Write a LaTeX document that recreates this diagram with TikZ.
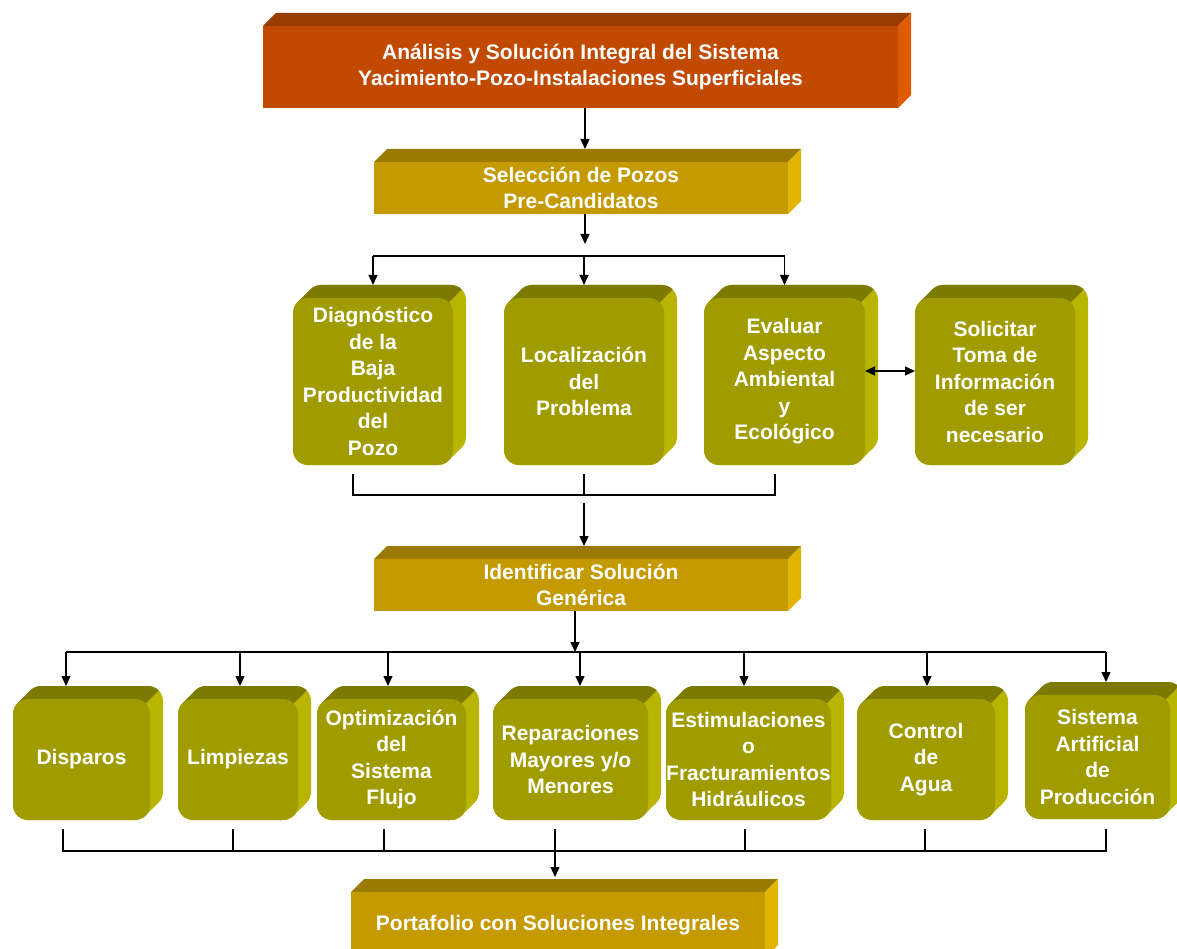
\documentclass[tikz,border=0pt]{standalone}
\usepackage{fontspec}
\setmainfont{Liberation Sans}
\usetikzlibrary{arrows.meta}

% palettes: front face, top face, side face
\definecolor{rustfront}{HTML}{C24A00}
\definecolor{rusttop}{HTML}{983C00}
\definecolor{rustside}{HTML}{E05A00}
\definecolor{goldfront}{HTML}{C49A00}
\definecolor{goldtop}{HTML}{9A7A00}
\definecolor{goldside}{HTML}{E0B400}
\definecolor{olfront}{HTML}{A09C00}
\definecolor{oltop}{HTML}{7C7A00}
\definecolor{olside}{HTML}{B8B400}

\newcommand\slabdep{13}
\newcommand\blkdep{13}
\newcommand\blkrad{15pt}
\newcommand\blktan{4.39}

% flat extruded bar: name, x1, y1, x2, y2 (front face), palette, text
\newcommand{\slab}[7]{%
  \fill[#6top] (#2,#3) -- (#2+\slabdep,#3-\slabdep) -- (#4+\slabdep,#3-\slabdep) -- (#4,#3) -- cycle;
  \fill[#6side] (#4,#3) -- (#4+\slabdep,#3-\slabdep) -- (#4+\slabdep,#5-\slabdep) -- (#4,#5) -- cycle;
  \node[txt, fill=#6front, minimum width={(#4-#2)*1pt}, minimum height={(#5-#3)*1pt}]
    (#1) at ({(#2+#4)/2},{(#3+#5)/2}) {#7};
}

% solid of a rounded block (front, back and the band joining them)
\newcommand{\blocksolid}[5]{%
  \fill[#5, rounded corners=\blkrad] (#1+\blkdep,#2-\blkdep) rectangle (#3+\blkdep,#4-\blkdep);
  \fill[#5, rounded corners=\blkrad] (#1,#2) rectangle (#3,#4);
  \fill[#5] (#1+\blktan,#2+\blktan) -- (#1+\blkdep+\blktan,#2-\blkdep+\blktan)
    -- (#3+\blkdep-\blktan,#4-\blkdep-\blktan) -- (#3-\blktan,#4-\blktan) -- cycle;
}

% extruded rounded block: name, x1, y1, x2, y2 (front face), text
\newcommand{\block}[6]{%
  \blocksolid{#2}{#3}{#4}{#5}{olside}
  \begin{scope}
    \clip (#2+\blktan,#3+\blktan) -- ++(60,-60) -- (#4-\blktan+60,#3+\blktan-60)
      -- (#4-\blktan,#3+\blktan) -- cycle;
    \blocksolid{#2}{#3}{#4}{#5}{oltop}
  \end{scope}
  \node[txt, fill=olfront, rounded corners=\blkrad, minimum width={(#4-#2)*1pt}, minimum height={(#5-#3)*1pt}]
    (#1) at ({(#2+#4)/2},{(#3+#5)/2}) {#6};
}

\begin{document}
\begin{tikzpicture}[x=1pt, y=-1pt,
  txt/.style={text=white, font=\fontsize{21}{26.5}\selectfont\bfseries, align=center,
              inner sep=0pt, outer sep=0pt},
  wire/.style={line width=1.3pt, black},
  arr/.style={wire, -{Triangle[length=10pt,width=9pt]}},
  dblarr/.style={wire, {Triangle[length=10pt,width=9pt]}-{Triangle[length=10pt,width=9pt]}}]

\path[use as bounding box] (0,0) rectangle (1177,949);
\clip (0,0) rectangle (1177,949);

% header bars
\slab{top}{263}{26}{898}{108}{rust}{Análisis y Solución Integral del Sistema\\Yacimiento-Pozo-Instalaciones Superficiales}
\slab{sel}{374}{162}{788}{214}{gold}{Selección de Pozos\\Pre-Candidatos}

% diagnosis row
\block{diag}{293}{298}{453}{465}{Diagnóstico\\de la\\Baja\\Productividad\\del\\Pozo}
\block{loc}{504}{298}{664}{465}{Localización\\del\\Problema}
\block{eval}{704}{298}{865}{465}{Evaluar\\Aspecto\\Ambiental\\y\\Ecológico}
\block{sol}{915}{298}{1075}{465}{Solicitar\\Toma de\\Información\\de ser\\necesario}

\slab{iden}{374}{559}{788}{611}{gold}{Identificar Solución\\Genérica}

% solution row
\block{disp}{13}{699}{150}{820}{Disparos}
\block{limp}{178}{699}{298}{820}{Limpiezas}
\block{opt}{317}{699}{466}{820}{Optimización\\del\\Sistema\\Flujo}
\block{rep}{493}{699}{648}{820}{Reparaciones\\Mayores y/o\\Menores}
\block{est}{666}{699}{831}{820}{Estimulaciones\\o\\Fracturamientos\\Hidráulicos}
\block{ctrl}{857}{699}{995}{820}{Control\\de\\Agua}
\block{sis}{1025}{695}{1170}{819}{Sistema\\Artificial\\de\\Producción}

\slab{port}{351}{892}{765}{958}{gold}{Portafolio con Soluciones Integrales}

% connectors: header to selection
\draw[arr] ([xshift=4.5pt]top.south) -- ([shift={(4pt,13pt)}]sel.north);
\coordinate (selbus) at ([shift={(4pt,-30pt)}]sel.south);
\draw[arr] ([xshift=4pt]sel.south) -- (selbus);
\draw[wire] ([yshift=42pt]diag.north) -- ([yshift=42pt]eval.north);
\draw[arr] ([yshift=42pt]diag.north) -- ([yshift=13pt]diag.north);
\draw[arr] ([yshift=42pt]loc.north) -- ([yshift=13pt]loc.north);
\draw[arr] ([yshift=42pt]eval.north) -- ([yshift=13pt]eval.north);
\draw[dblarr] ([yshift=10.5pt]eval.east) -- ([yshift=10.5pt]sol.west);

% diagnosis row to generic solution
\draw[wire] ([shift={(-20pt,-9pt)}]diag.south) -- ++(0,21) -| ([shift={(-9.5pt,-9pt)}]eval.south);
\draw[wire] ([yshift=-9pt]loc.south) -- ++(0,21);
\draw[arr] ([yshift=-38pt]loc.south) -- ([shift={(3pt,13pt)}]iden.north);

% generic solution to the solution row
\coordinate (idbus) at ([shift={(-6pt,-41pt)}]iden.south);
\draw[arr] ([xshift=-6pt]iden.south) -- (idbus);
\draw[wire] ([shift={(-15.5pt,47pt)}]disp.north) -- ([shift={(8.5pt,43pt)}]sis.north);
\draw[arr] ([shift={(-15.5pt,47pt)}]disp.north) -- ([shift={(-15.5pt,13pt)}]disp.north);
\draw[arr] ([shift={(2pt,47pt)}]limp.north) -- ([shift={(2pt,13pt)}]limp.north);
\draw[arr] ([shift={(-3.5pt,47pt)}]opt.north) -- ([shift={(-3.5pt,13pt)}]opt.north);
\draw[arr] ([shift={(9.5pt,47pt)}]rep.north) -- ([shift={(9.5pt,13pt)}]rep.north);
\draw[arr] ([shift={(-4.5pt,47pt)}]est.north) -- ([shift={(-4.5pt,13pt)}]est.north);
\draw[arr] ([shift={(1pt,47pt)}]ctrl.north) -- ([shift={(1pt,13pt)}]ctrl.north);
\draw[arr] ([shift={(8.5pt,43pt)}]sis.north) -- ([shift={(8.5pt,13pt)}]sis.north);

% solution row to portfolio
\draw[wire] ([shift={(-18.5pt,-9pt)}]disp.south) -- ++(0,22) -| ([shift={(8.5pt,-10pt)}]sis.south);
\draw[wire] ([shift={(-5pt,-9pt)}]limp.south) -- ++(0,22);
\draw[wire] ([shift={(-7.5pt,-9pt)}]opt.south) -- ++(0,22);
\draw[wire] ([shift={(-3.5pt,-9pt)}]est.south) -- ++(0,22);
\draw[wire] ([shift={(-1pt,-9pt)}]ctrl.south) -- ++(0,22);
\draw[arr] ([shift={(-15.5pt,-9pt)}]rep.south) -- ([shift={(-3pt,15pt)}]port.north);

\end{tikzpicture}
\end{document}
